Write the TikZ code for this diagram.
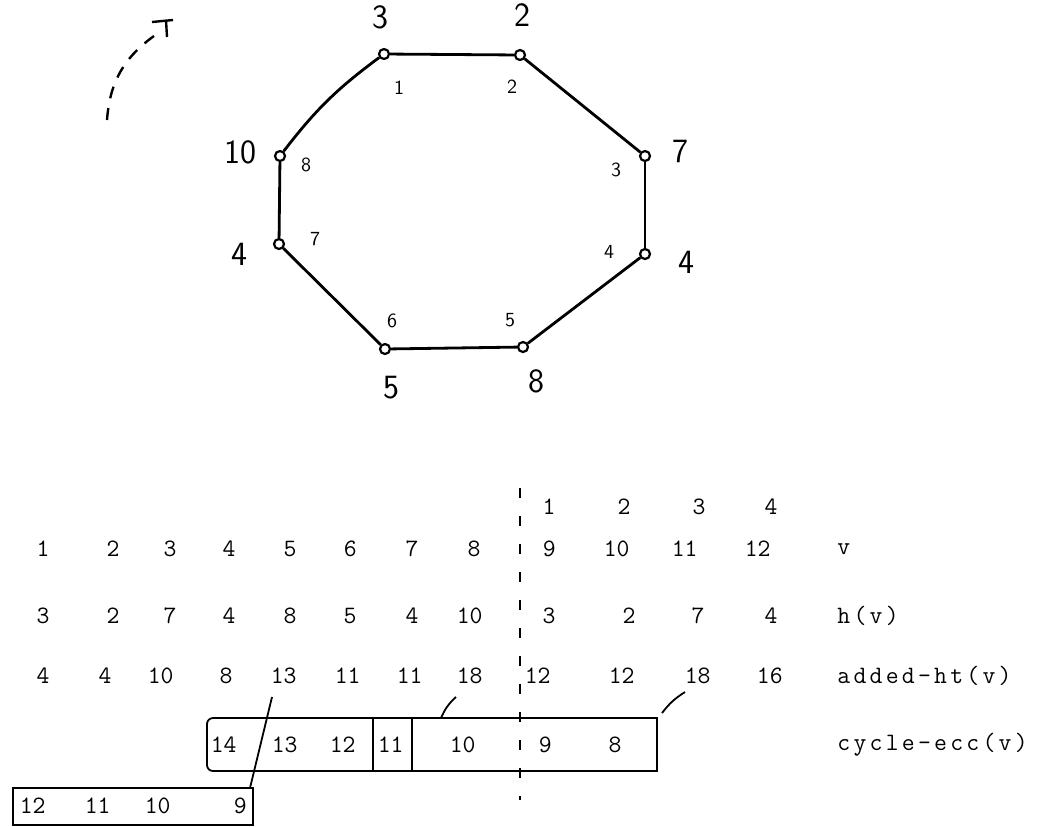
\documentclass[tikz,border=0pt]{standalone}
\usepackage{fontspec}
\usepackage{tikz}
\usetikzlibrary{positioning}
\newfontfamily\wideTT[LetterSpace=13]{Latin Modern Mono}
\tikzset{
  vert/.style={circle,draw=black,line width=1.1pt,fill=white,inner sep=0pt,minimum size=5pt},
  edge/.style={draw=black,line width=1.4pt},
  rank/.style={font=\sffamily\fontsize{10}{12}\selectfont,inner sep=0pt},
  hgt/.style={font=\sffamily\fontsize{17}{20}\selectfont,inner sep=0pt},
  cell/.style={font=\ttfamily\fontsize{12.5}{14}\selectfont,inner sep=0pt,anchor=east},
  rowname/.style={font=\wideTT\fontsize{12.5}{14}\selectfont,inner sep=0pt,anchor=west},
  boxline/.style={draw=black,line width=0.9pt},
  cutline/.style={draw=black,line width=1pt,dash pattern=on 5pt off 9pt},
}
\begin{document}
\begin{tikzpicture}[x=0.5pt,y=-0.5pt]
  \useasboundingbox (0,0) rectangle (1058,826);

  % the cycle
  \node[vert] (c1) at (384,54) {};
  \node[vert] (c2) at (520,55) {};
  \node[vert] (c3) at (645,156) {};
  \node[vert] (c4) at (645,254) {};
  \node[vert] (c5) at (523,347) {};
  \node[vert] (c6) at (385,349) {};
  \node[vert] (c7) at (279,244) {};
  \node[vert] (c8) at (280,156) {};
  \draw[edge] (c1) -- (c2);
  \draw[edge] (c2) -- (c3);
  \draw[edge] (c3) -- (c4);
  \draw[edge] (c4) -- (c5);
  \draw[edge] (c5) -- (c6);
  \draw[edge] (c6) -- (c7);
  \draw[edge] (c7) -- (c8);
  \draw[edge] (c8) to[bend left=8] (c1);

  % position along the cycle
  \node[rank] (r1) at (399,88) {1};
  \node[rank] (r2) at (512,87) {2};
  \node[rank] (r3) at (616,170) {3};
  \node[rank] (r4) at (609,252) {4};
  \node[rank] (r5) at (510,320) {5};
  \node[rank] (r6) at (392,321) {6};
  \node[rank] (r7) at (315,239) {7};
  \node[rank] (r8) at (306,165) {8};

  % heights
  \node[hgt] (h1) at (380,17) {3};
  \node[hgt] (h2) at (522,15) {2};
  \node[hgt] (h3) at (680,151) {7};
  \node[hgt] (h4) at (686,262) {4};
  \node[hgt] (h5) at (536,381) {8};
  \node[hgt] (h6) at (391,388) {5};
  \node[hgt] (h7) at (239,254) {4};
  \node[hgt] (h8) at (240,152) {10};

  % direction mark
  \draw[line width=1.2pt,dash pattern=on 6pt off 5pt] (107,120) to[bend left=25] (154,36);
  \draw[line width=1.2pt] (152,22) -- (173,20);
  \draw[line width=1.2pt] (166,20) -- (167,37);

  % table
  \foreach \x/\t [count=\i] in {556/1,631/2,706/3,778/4}
    \node[cell] (t\i) at (\x,507) {\t};
  \foreach \x/\t [count=\i] in {50/1,120/2,177/3,236/4,297/5,357/6,419/7,481/8,556/9,630/10,698/11,771/12}
    \node[cell] (v\i) at (\x,549) {\t};
  \foreach \x/\t [count=\i] in {50/3,120/2,177/7,236/4,297/8,357/5,419/4,483/10,556/3,636/2,705/7,778/4}
    \node[cell] (h\i) at (\x,616) {\t};
  \foreach \x/\t [count=\i] in {50/4,112/4,174/10,233/8,297/13,361/11,423/11,483/18,551/12,635/12,711/18,783/16}
    \node[cell] (a\i) at (\x,676) {\t};
  \foreach \x/\t [count=\i] in {237/14,298/13,356/12,404/11,476/10,552/9,622/8}
    \node[cell] (e\i) at (\x,745) {\t};
  \foreach \x/\t [count=\i] in {46/12,111/11,171/10,247/9}
    \node[cell] (b\i) at (\x,806) {\t};

  \node[rowname] (nv) at (837,549) {v};
  \node[rowname] (nh) at (837,616) {h(v)};
  \node[rowname] (na) at (837,676) {added-ht(v)};
  \node[rowname] (ne) at (837,745) {cycle-ecc(v)};

  % boxes
  \draw[boxline] (657,718) -- (657,771) [rounded corners=3pt]-- (207,771) -- (207,718) [sharp corners]-- cycle;
  \draw[boxline] (373,718) -- (373,771);
  \draw[boxline] (412,718) -- (412,771);
  \coordinate (lowtl) at (13,788);
  \coordinate (lowbr) at (253,825);
  \draw[boxline] (lowtl) rectangle (lowbr);

  % cut between the two copies
  \draw[cutline] (520,488) -- (520,800);

  % links
  \coordinate (k1) at (272,697);
  \coordinate (k2) at (250,788);
  \draw[boxline] (k1) -- (k2);
  \coordinate (k3) at (456,697);
  \coordinate (k4) at (441,718);
  \draw[boxline] (k3) to[bend right=12] (k4);
  \coordinate (k5) at (685,692);
  \coordinate (k6) at (662,713);
  \draw[boxline] (k5) to[bend right=10] (k6);
\end{tikzpicture}
\end{document}
